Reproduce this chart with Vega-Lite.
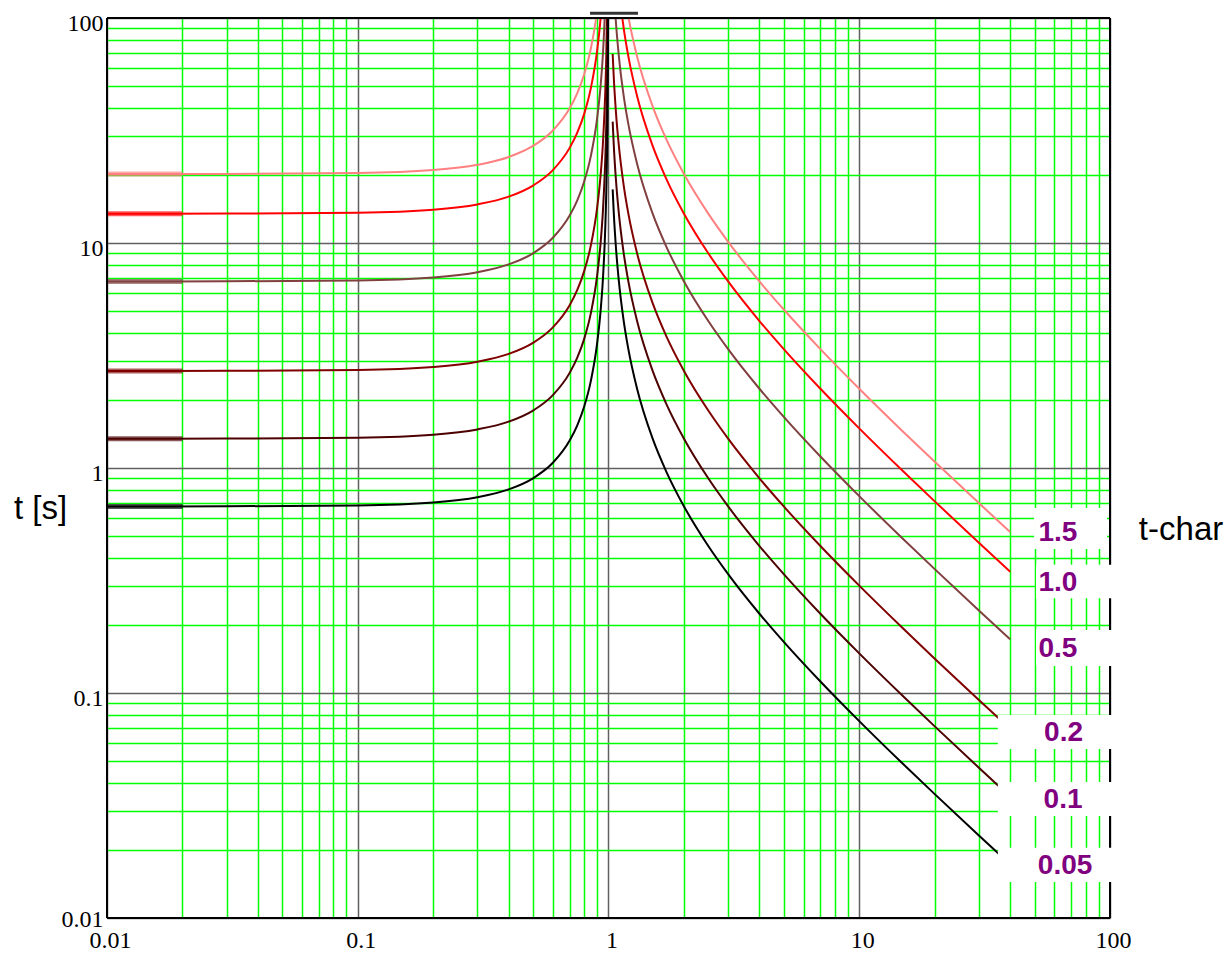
{
  "$schema": "https://vega.github.io/schema/vega-lite/v6.json",
  "width": 1003,
  "height": 900,
  "autosize": {"type": "none"},
  "padding": {"left": 107, "top": 18, "right": 121, "bottom": 35},
  "background": "white",
  "config": {"view": {"stroke": null}},
  "datasets": {
    "curves": [
      {"k":"1.5","s":"L","I":0.01,"t":20.25},{"k":"1.5","s":"L","I":0.03,"t":20.27},{"k":"1.5","s":"L","I":0.1,"t":20.45},{"k":"1.5","s":"L","I":0.2,"t":21.09},{"k":"1.5","s":"L","I":0.3,"t":22.25},{"k":"1.5","s":"L","I":0.4,"t":24.11},{"k":"1.5","s":"L","I":0.5,"t":27.0},{"k":"1.5","s":"L","I":0.6,"t":31.64},{"k":"1.5","s":"L","I":0.7,"t":39.71},{"k":"1.5","s":"L","I":0.75,"t":46.29},{"k":"1.5","s":"L","I":0.8,"t":56.25},{"k":"1.5","s":"L","I":0.85,"t":72.97},{"k":"1.5","s":"L","I":0.9,"t":106.6},{"k":"1.5","s":"L","I":0.93,"t":149.9},{"k":"1.5","s":"L","I":0.95,"t":207.7},
      {"k":"1.0","s":"L","I":0.01,"t":13.5},{"k":"1.0","s":"L","I":0.03,"t":13.51},{"k":"1.0","s":"L","I":0.1,"t":13.64},{"k":"1.0","s":"L","I":0.2,"t":14.06},{"k":"1.0","s":"L","I":0.3,"t":14.84},{"k":"1.0","s":"L","I":0.4,"t":16.07},{"k":"1.0","s":"L","I":0.5,"t":18.0},{"k":"1.0","s":"L","I":0.6,"t":21.09},{"k":"1.0","s":"L","I":0.7,"t":26.47},{"k":"1.0","s":"L","I":0.75,"t":30.86},{"k":"1.0","s":"L","I":0.8,"t":37.5},{"k":"1.0","s":"L","I":0.85,"t":48.65},{"k":"1.0","s":"L","I":0.9,"t":71.05},{"k":"1.0","s":"L","I":0.93,"t":99.93},{"k":"1.0","s":"L","I":0.95,"t":138.5},{"k":"1.0","s":"L","I":0.97,"t":228.4},
      {"k":"0.5","s":"L","I":0.01,"t":6.75},{"k":"0.5","s":"L","I":0.03,"t":6.756},{"k":"0.5","s":"L","I":0.1,"t":6.818},{"k":"0.5","s":"L","I":0.2,"t":7.031},{"k":"0.5","s":"L","I":0.3,"t":7.418},{"k":"0.5","s":"L","I":0.4,"t":8.036},{"k":"0.5","s":"L","I":0.5,"t":9.0},{"k":"0.5","s":"L","I":0.6,"t":10.55},{"k":"0.5","s":"L","I":0.7,"t":13.24},{"k":"0.5","s":"L","I":0.75,"t":15.43},{"k":"0.5","s":"L","I":0.8,"t":18.75},{"k":"0.5","s":"L","I":0.85,"t":24.32},{"k":"0.5","s":"L","I":0.9,"t":35.53},{"k":"0.5","s":"L","I":0.93,"t":49.96},{"k":"0.5","s":"L","I":0.95,"t":69.23},{"k":"0.5","s":"L","I":0.97,"t":114.2},{"k":"0.5","s":"L","I":0.98,"t":170.5},
      {"k":"0.2","s":"L","I":0.01,"t":2.7},{"k":"0.2","s":"L","I":0.03,"t":2.702},{"k":"0.2","s":"L","I":0.1,"t":2.727},{"k":"0.2","s":"L","I":0.2,"t":2.813},{"k":"0.2","s":"L","I":0.3,"t":2.967},{"k":"0.2","s":"L","I":0.4,"t":3.214},{"k":"0.2","s":"L","I":0.5,"t":3.6},{"k":"0.2","s":"L","I":0.6,"t":4.219},{"k":"0.2","s":"L","I":0.7,"t":5.294},{"k":"0.2","s":"L","I":0.75,"t":6.171},{"k":"0.2","s":"L","I":0.8,"t":7.5},{"k":"0.2","s":"L","I":0.85,"t":9.73},{"k":"0.2","s":"L","I":0.9,"t":14.21},{"k":"0.2","s":"L","I":0.93,"t":19.98},{"k":"0.2","s":"L","I":0.95,"t":27.69},{"k":"0.2","s":"L","I":0.97,"t":45.68},{"k":"0.2","s":"L","I":0.98,"t":68.18},{"k":"0.2","s":"L","I":0.99,"t":135.7},
      {"k":"0.1","s":"L","I":0.01,"t":1.35},{"k":"0.1","s":"L","I":0.03,"t":1.351},{"k":"0.1","s":"L","I":0.1,"t":1.364},{"k":"0.1","s":"L","I":0.2,"t":1.406},{"k":"0.1","s":"L","I":0.3,"t":1.484},{"k":"0.1","s":"L","I":0.4,"t":1.607},{"k":"0.1","s":"L","I":0.5,"t":1.8},{"k":"0.1","s":"L","I":0.6,"t":2.109},{"k":"0.1","s":"L","I":0.7,"t":2.647},{"k":"0.1","s":"L","I":0.75,"t":3.086},{"k":"0.1","s":"L","I":0.8,"t":3.75},{"k":"0.1","s":"L","I":0.85,"t":4.865},{"k":"0.1","s":"L","I":0.9,"t":7.105},{"k":"0.1","s":"L","I":0.93,"t":9.993},{"k":"0.1","s":"L","I":0.95,"t":13.85},{"k":"0.1","s":"L","I":0.97,"t":22.84},{"k":"0.1","s":"L","I":0.98,"t":34.09},{"k":"0.1","s":"L","I":0.99,"t":67.84},{"k":"0.1","s":"L","I":0.995,"t":135.3},
      {"k":"0.05","s":"L","I":0.01,"t":0.675},{"k":"0.05","s":"L","I":0.03,"t":0.6756},{"k":"0.05","s":"L","I":0.1,"t":0.6818},{"k":"0.05","s":"L","I":0.2,"t":0.7031},{"k":"0.05","s":"L","I":0.3,"t":0.7418},{"k":"0.05","s":"L","I":0.4,"t":0.8036},{"k":"0.05","s":"L","I":0.5,"t":0.9},{"k":"0.05","s":"L","I":0.6,"t":1.055},{"k":"0.05","s":"L","I":0.7,"t":1.324},{"k":"0.05","s":"L","I":0.75,"t":1.543},{"k":"0.05","s":"L","I":0.8,"t":1.875},{"k":"0.05","s":"L","I":0.85,"t":2.432},{"k":"0.05","s":"L","I":0.9,"t":3.553},{"k":"0.05","s":"L","I":0.93,"t":4.996},{"k":"0.05","s":"L","I":0.95,"t":6.923},{"k":"0.05","s":"L","I":0.97,"t":11.42},{"k":"0.05","s":"L","I":0.98,"t":17.05},{"k":"0.05","s":"L","I":0.99,"t":33.92},{"k":"0.05","s":"L","I":0.995,"t":67.67},{"k":"0.05","s":"L","I":0.998,"t":168.9},
      {"k":"1.5","s":"R","I":1.1,"t":202.5},{"k":"1.5","s":"R","I":1.15,"t":135.0},{"k":"1.5","s":"R","I":1.2,"t":101.25},{"k":"1.5","s":"R","I":1.3,"t":67.5},{"k":"1.5","s":"R","I":1.5,"t":40.5},{"k":"1.5","s":"R","I":1.7,"t":28.93},{"k":"1.5","s":"R","I":2,"t":20.25},{"k":"1.5","s":"R","I":2.5,"t":13.5},{"k":"1.5","s":"R","I":3,"t":10.125},{"k":"1.5","s":"R","I":4,"t":6.75},{"k":"1.5","s":"R","I":5,"t":5.0625},{"k":"1.5","s":"R","I":7,"t":3.375},{"k":"1.5","s":"R","I":10,"t":2.25},{"k":"1.5","s":"R","I":15,"t":1.446},{"k":"1.5","s":"R","I":20,"t":1.066},{"k":"1.5","s":"R","I":30,"t":0.6983},{"k":"1.5","s":"R","I":40,"t":0.5192},
      {"k":"1.0","s":"R","I":1.07,"t":192.9},{"k":"1.0","s":"R","I":1.1,"t":135},{"k":"1.0","s":"R","I":1.15,"t":90},{"k":"1.0","s":"R","I":1.2,"t":67.5},{"k":"1.0","s":"R","I":1.3,"t":45},{"k":"1.0","s":"R","I":1.5,"t":27},{"k":"1.0","s":"R","I":1.7,"t":19.29},{"k":"1.0","s":"R","I":2,"t":13.5},{"k":"1.0","s":"R","I":2.5,"t":9},{"k":"1.0","s":"R","I":3,"t":6.75},{"k":"1.0","s":"R","I":4,"t":4.5},{"k":"1.0","s":"R","I":5,"t":3.375},{"k":"1.0","s":"R","I":7,"t":2.25},{"k":"1.0","s":"R","I":10,"t":1.5},{"k":"1.0","s":"R","I":15,"t":0.9643},{"k":"1.0","s":"R","I":20,"t":0.7105},{"k":"1.0","s":"R","I":30,"t":0.4655},{"k":"1.0","s":"R","I":40,"t":0.3462},
      {"k":"0.5","s":"R","I":1.039,"t":173.1},{"k":"0.5","s":"R","I":1.05,"t":135},{"k":"0.5","s":"R","I":1.07,"t":96.43},{"k":"0.5","s":"R","I":1.1,"t":67.5},{"k":"0.5","s":"R","I":1.15,"t":45},{"k":"0.5","s":"R","I":1.2,"t":33.75},{"k":"0.5","s":"R","I":1.3,"t":22.5},{"k":"0.5","s":"R","I":1.5,"t":13.5},{"k":"0.5","s":"R","I":1.7,"t":9.643},{"k":"0.5","s":"R","I":2,"t":6.75},{"k":"0.5","s":"R","I":2.5,"t":4.5},{"k":"0.5","s":"R","I":3,"t":3.375},{"k":"0.5","s":"R","I":4,"t":2.25},{"k":"0.5","s":"R","I":5,"t":1.6875},{"k":"0.5","s":"R","I":7,"t":1.125},{"k":"0.5","s":"R","I":10,"t":0.75},{"k":"0.5","s":"R","I":15,"t":0.4821},{"k":"0.5","s":"R","I":20,"t":0.3553},{"k":"0.5","s":"R","I":30,"t":0.2328},{"k":"0.5","s":"R","I":40,"t":0.1731},
      {"k":"0.2","s":"R","I":1.039,"t":69.23},{"k":"0.2","s":"R","I":1.05,"t":54},{"k":"0.2","s":"R","I":1.07,"t":38.57},{"k":"0.2","s":"R","I":1.1,"t":27},{"k":"0.2","s":"R","I":1.15,"t":18},{"k":"0.2","s":"R","I":1.2,"t":13.5},{"k":"0.2","s":"R","I":1.3,"t":9},{"k":"0.2","s":"R","I":1.5,"t":5.4},{"k":"0.2","s":"R","I":1.7,"t":3.857},{"k":"0.2","s":"R","I":2,"t":2.7},{"k":"0.2","s":"R","I":2.5,"t":1.8},{"k":"0.2","s":"R","I":3,"t":1.35},{"k":"0.2","s":"R","I":4,"t":0.9},{"k":"0.2","s":"R","I":5,"t":0.675},{"k":"0.2","s":"R","I":7,"t":0.45},{"k":"0.2","s":"R","I":10,"t":0.3},{"k":"0.2","s":"R","I":15,"t":0.1929},{"k":"0.2","s":"R","I":20,"t":0.1421},{"k":"0.2","s":"R","I":30,"t":0.0931},{"k":"0.2","s":"R","I":40,"t":0.06923},
      {"k":"0.1","s":"R","I":1.039,"t":34.62},{"k":"0.1","s":"R","I":1.05,"t":27},{"k":"0.1","s":"R","I":1.07,"t":19.29},{"k":"0.1","s":"R","I":1.1,"t":13.5},{"k":"0.1","s":"R","I":1.15,"t":9},{"k":"0.1","s":"R","I":1.2,"t":6.75},{"k":"0.1","s":"R","I":1.3,"t":4.5},{"k":"0.1","s":"R","I":1.5,"t":2.7},{"k":"0.1","s":"R","I":1.7,"t":1.929},{"k":"0.1","s":"R","I":2,"t":1.35},{"k":"0.1","s":"R","I":2.5,"t":0.9},{"k":"0.1","s":"R","I":3,"t":0.675},{"k":"0.1","s":"R","I":4,"t":0.45},{"k":"0.1","s":"R","I":5,"t":0.3375},{"k":"0.1","s":"R","I":7,"t":0.225},{"k":"0.1","s":"R","I":10,"t":0.15},{"k":"0.1","s":"R","I":15,"t":0.09643},{"k":"0.1","s":"R","I":20,"t":0.07105},{"k":"0.1","s":"R","I":30,"t":0.04655},{"k":"0.1","s":"R","I":40,"t":0.03462},
      {"k":"0.05","s":"R","I":1.039,"t":17.31},{"k":"0.05","s":"R","I":1.05,"t":13.5},{"k":"0.05","s":"R","I":1.07,"t":9.643},{"k":"0.05","s":"R","I":1.1,"t":6.75},{"k":"0.05","s":"R","I":1.15,"t":4.5},{"k":"0.05","s":"R","I":1.2,"t":3.375},{"k":"0.05","s":"R","I":1.3,"t":2.25},{"k":"0.05","s":"R","I":1.5,"t":1.35},{"k":"0.05","s":"R","I":1.7,"t":0.9643},{"k":"0.05","s":"R","I":2,"t":0.675},{"k":"0.05","s":"R","I":2.5,"t":0.45},{"k":"0.05","s":"R","I":3,"t":0.3375},{"k":"0.05","s":"R","I":4,"t":0.225},{"k":"0.05","s":"R","I":5,"t":0.16875},{"k":"0.05","s":"R","I":7,"t":0.1125},{"k":"0.05","s":"R","I":10,"t":0.075},{"k":"0.05","s":"R","I":15,"t":0.04821},{"k":"0.05","s":"R","I":20,"t":0.03553},{"k":"0.05","s":"R","I":30,"t":0.02328},{"k":"0.05","s":"R","I":40,"t":0.01731}
    ],
    "stubs": [
      {"k":"1.5","I":0.01,"I2":0.02,"t":20.25},{"k":"1.0","I":0.01,"I2":0.02,"t":13.5},{"k":"0.5","I":0.01,"I2":0.02,"t":6.75},{"k":"0.2","I":0.01,"I2":0.02,"t":2.7},{"k":"0.1","I":0.01,"I2":0.02,"t":1.35},{"k":"0.05","I":0.01,"I2":0.02,"t":0.675}
    ],
    "frame": [
      {"I":0.01,"I2":100,"t":100,"t2":100},{"I":0.01,"I2":100,"t":0.01,"t2":0.01},{"I":0.01,"I2":0.01,"t":0.01,"t2":100},{"I":100,"I2":100,"t":0.01,"t2":100}
    ],
    "topband": [
      {"I":0.844,"I2":1.311,"t":105}
    ],
    "boxes": [
      {"I":49.8,"I2":97.3,"t":0.664,"t2":0.436},{"I":50.7,"I2":103.7,"t":0.372,"t2":0.264},{"I":50.7,"I2":103.7,"t":0.1905,"t2":0.1318},{"I":35.7,"I2":103.7,"t":0.0798,"t2":0.0564},{"I":35.7,"I2":103.7,"t":0.0402,"t2":0.0284},{"I":35.7,"I2":103.7,"t":0.0205,"t2":0.01445}
    ],
    "labels": [
      {"lab":"1.5","I":62,"t":0.514},{"lab":"1.0","I":62,"t":0.308},{"lab":"0.5","I":62,"t":0.157},{"lab":"0.2","I":65.3,"t":0.0664},{"lab":"0.1","I":65,"t":0.0336},{"lab":"0.05","I":66.2,"t":0.01694}
    ],
    "title": [{"lab":"t-char","I":192,"t":0.53}]
  },
  "layer": [
    {
      "data": {"name": "curves"},
      "mark": {"type": "line", "clip": true, "strokeWidth": 2, "interpolate": "monotone"},
      "encoding": {
        "x": {"field": "I", "type": "quantitative",
          "scale": {"type": "log", "domain": [0.01, 100], "nice": false},
          "axis": {
            "title": null, "domain": false, "ticks": false,
            "values": [0.01,0.02,0.03,0.04,0.05,0.06,0.07,0.08,0.09,0.1,0.2,0.3,0.4,0.5,0.6,0.7,0.8,0.9,1,2,3,4,5,6,7,8,9,10,20,30,40,50,60,70,80,90,100],
            "labelExpr": "datum.value == 0.01 ? '0.01' : datum.value == 0.1 ? '0.1' : datum.value == 1 ? '1' : datum.value == 10 ? '10' : datum.value == 100 ? '100' : ''",
            "labelFont": "Liberation Serif", "labelFontSize": 24, "labelColor": "#000000",
            "labelPadding": 10, "labelOffset": 3, "labelFlush": false, "labelOverlap": false,
            "grid": true,
            "gridColor": {"condition": {"test": "indexof([0.01,0.1,1,10,100], datum.value) >= 0", "value": "#606060"}, "value": "#00ff00"},
            "gridWidth": 1.5
          }},
        "y": {"field": "t", "type": "quantitative",
          "scale": {"type": "log", "domain": [0.01, 100], "nice": false},
          "axis": {
            "title": "t [s]", "titleAngle": 0, "titleX": -67, "titleY": 490, "titleAlign": "center", "titleBaseline": "middle",
            "titleFont": "Liberation Sans", "titleFontSize": 33, "titleFontWeight": "normal", "titleColor": "#000000",
            "domain": false, "ticks": false,
            "values": [0.01,0.02,0.03,0.04,0.05,0.06,0.07,0.08,0.09,0.1,0.2,0.3,0.4,0.5,0.6,0.7,0.8,0.9,1,2,3,4,5,6,7,8,9,10,20,30,40,50,60,70,80,90,100],
            "labelExpr": "datum.value == 0.01 ? '0.01' : datum.value == 0.1 ? '0.1' : datum.value == 1 ? '1' : datum.value == 10 ? '10' : datum.value == 100 ? '100' : ''",
            "labelFont": "Liberation Serif", "labelFontSize": 24, "labelColor": "#000000",
            "labelPadding": 4, "labelBaseline": "middle",
            "labelOffset": {"condition": {"test": "datum.value == 0.01", "value": 1}, "value": 5},
            "labelFlush": false, "labelOverlap": false,
            "grid": true,
            "gridColor": {"condition": {"test": "indexof([0.01,0.1,1,10,100], datum.value) >= 0", "value": "#606060"}, "value": "#00ff00"},
            "gridWidth": 1.5
          }},
        "color": {"field": "k", "type": "nominal",
          "scale": {"domain": ["1.5","1.0","0.5","0.2","0.1","0.05"], "range": ["#ff8080","#ff0000","#804040","#800000","#4d0000","#000000"]},
          "legend": null},
        "detail": {"field": "s"}
      }
    },
    {
      "data": {"name": "stubs"},
      "mark": {"type": "rule", "strokeWidth": 5, "opacity": 0.65},
      "encoding": {
        "x": {"field": "I", "type": "quantitative"},
        "x2": {"field": "I2"},
        "y": {"field": "t", "type": "quantitative"},
        "color": {"field": "k", "type": "nominal", "legend": null}
      }
    },
    {
      "data": {"name": "frame"},
      "mark": {"type": "rule", "strokeWidth": 2, "color": "#000000"},
      "encoding": {
        "x": {"field": "I", "type": "quantitative"},
        "x2": {"field": "I2"},
        "y": {"field": "t", "type": "quantitative"},
        "y2": {"field": "t2"}
      }
    },
    {
      "data": {"name": "topband"},
      "mark": {"type": "rule", "strokeWidth": 3, "color": "#333333", "clip": false},
      "encoding": {
        "x": {"field": "I", "type": "quantitative"},
        "x2": {"field": "I2"},
        "y": {"field": "t", "type": "quantitative"}
      }
    },
    {
      "data": {"name": "boxes"},
      "mark": {"type": "rect", "fill": "#ffffff", "clip": false},
      "encoding": {
        "x": {"field": "I", "type": "quantitative"},
        "x2": {"field": "I2"},
        "y": {"field": "t", "type": "quantitative"},
        "y2": {"field": "t2"}
      }
    },
    {
      "data": {"name": "labels"},
      "mark": {"type": "text", "font": "Liberation Sans", "fontSize": 28, "fontWeight": "bold", "color": "#800080", "align": "center", "baseline": "middle"},
      "encoding": {
        "x": {"field": "I", "type": "quantitative"},
        "y": {"field": "t", "type": "quantitative"},
        "text": {"field": "lab"}
      }
    },
    {
      "data": {"name": "title"},
      "mark": {"type": "text", "font": "Liberation Sans", "fontSize": 33, "color": "#000000", "align": "center", "baseline": "middle", "clip": false},
      "encoding": {
        "x": {"field": "I", "type": "quantitative"},
        "y": {"field": "t", "type": "quantitative"},
        "text": {"field": "lab"}
      }
    }
  ]
}
